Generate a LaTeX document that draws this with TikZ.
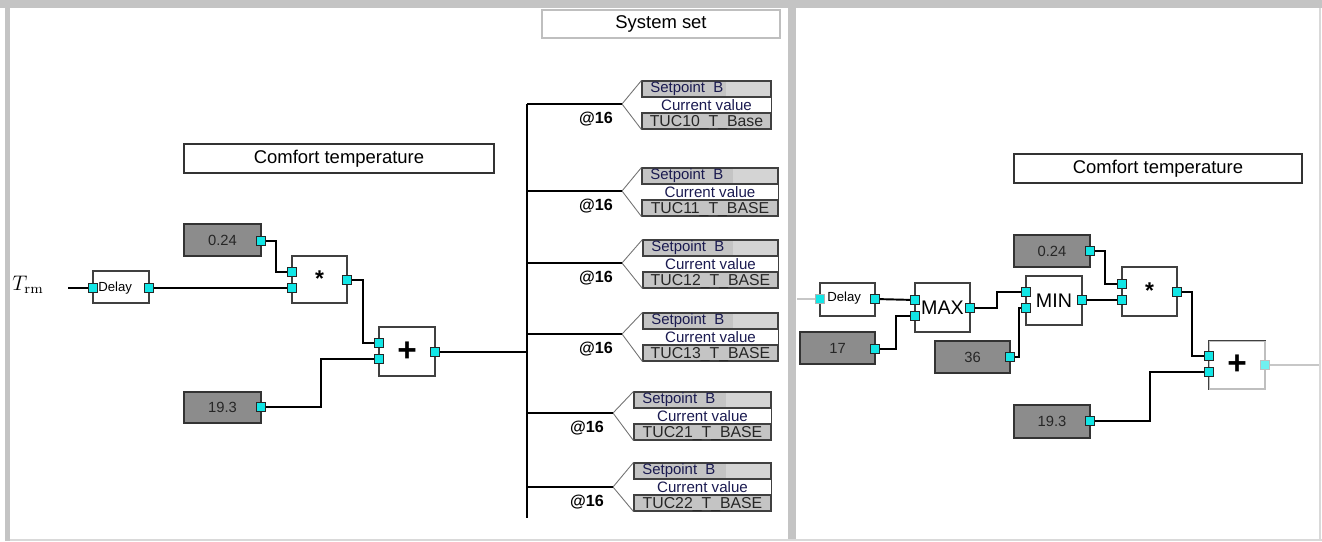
\documentclass[tikz,border=0pt]{standalone}
\usepackage[no-math]{fontspec}
\setmainfont{Liberation Sans}
\usetikzlibrary{backgrounds}
\definecolor{framegray}{HTML}{C4C4C4}
\definecolor{constgray}{HTML}{8C8C8C}
\definecolor{rowgray}{HTML}{C4C4C4}
\definecolor{rowlight}{HTML}{D4D4D4}
\definecolor{portcyan}{HTML}{12E6E6}
\definecolor{rowtext}{HTML}{1A1A50}
\newdimen\pxu \pxu=0.02cm

\begin{document}
\begin{tikzpicture}[
    x=0.02cm, y=-0.02cm,
    wire/.style={line width=1.1pt, black},
    paleline/.style={line width=1pt, black!22},
    fbox/.style={rectangle, draw=black!75, fill=white, line width=0.6pt, inner sep=0pt, minimum width=56\pxu, minimum height=48\pxu},
    cbox/.style={rectangle, draw=black!80, fill=constgray, line width=0.6pt, inner sep=0pt, minimum width=76\pxu, minimum height=32\pxu, text=black!85, font=\fontsize{8.4}{10}\selectfont},
    titlebox/.style={rectangle, draw=black!80, fill=white, line width=0.6pt, inner sep=0pt, minimum height=29\pxu, font=\fontsize{10.5}{12}\selectfont},
    port/.style={rectangle, draw=black!85, fill=portcyan, line width=0.5pt, inner sep=0pt, minimum size=9\pxu},
    sprow/.style={rectangle, draw=black!75, fill=rowgray, line width=0.6pt, inner sep=0pt, minimum height=16\pxu},
    chev/.style={black!55, line width=0.5pt},
    tagtext/.style={font=\bfseries\fontsize{9.2}{10}\selectfont, anchor=east},
    bigop/.style={font=\fontsize{11.2}{12}\selectfont}
]
    \useasboundingbox (0,0) rectangle (1322,541);

    % Frame of the two panels
    \fill[framegray] (0,0) rectangle (1322,8);
    \fill[framegray] (5,8) rectangle (10,541);
    \fill[framegray] (788,8) rectangle (796,541);
    \fill[black!15] (10,539) rectangle (1322,541);
    \fill[black!15] (1319,8) rectangle (1321,541);
    \node[titlebox, draw=black!25, minimum width=238\pxu, minimum height=28\pxu] (sysset) at (661,24) {System set};

    % Left panel: blocks
    \node[titlebox, minimum width=310\pxu] (titleL) at (339,158.5) {Comfort temperature};
    \node[anchor=base west, font=\fontsize{12}{14}\selectfont, inner sep=0pt] (trm) at (12,290) {$T_{\rm rm}$};
    \coordinate (trm-end) at (68,288);
    \node[fbox, minimum width=56\pxu, minimum height=32\pxu] (dlyL) at (121,287) {};
    \node[anchor=west, inner sep=0pt, font=\fontsize{7.5}{9}\selectfont] at (98,288) {Delay};
    \node[cbox, minimum width=77\pxu] (c024L) at (222.5,240) {0.24};
    \node[fbox, minimum width=55\pxu, minimum height=47\pxu] (mulL) at (319.5,279.5) {};
    \node[anchor=north, inner sep=0pt, font=\bfseries\fontsize{13}{14}\selectfont] at (319.5,270) {*};
    \node[fbox, minimum height=49\pxu] (addL) at (407,351.5) {\bfseries\fontsize{19}{20}\selectfont +};
    \node[cbox, minimum width=77\pxu, minimum height=31\pxu] (c193L) at (222.5,407.5) {19.3};

    % Left panel: ports
    \node[port] (dlyL-i) at (93,288) {};
    \node[port] (dlyL-o) at (149,288) {};
    \node[port] (c024L-o) at (261,241) {};
    \node[port] (mulL-i1) at (292,272) {};
    \node[port] (mulL-i2) at (292,288) {};
    \node[port] (mulL-o) at (347,280) {};
    \node[port] (addL-i1) at (379,343) {};
    \node[port] (addL-i2) at (379,359) {};
    \node[port] (addL-o) at (435,352) {};
    \node[port] (c193L-o) at (261,407) {};

    % Left panel: wires
    \coordinate (tapadd) at (527,352);
    \coordinate (busend) at (527,518);
    \begin{scope}[on background layer]
        \draw[wire] (trm-end) -- (dlyL-i.center);
        \draw[wire] (dlyL-o.center) -- (mulL-i2.center);
        \draw[wire] (c024L-o.center) -- ++(15,0) |- (mulL-i1.center);
        \draw[wire] (mulL-o.center) -- ++(16,0) |- (addL-i1.center);
        \draw[wire] (c193L-o.center) -- ++(60,0) |- (addL-i2.center);
        \draw[wire] (addL-o.center) -- (tapadd);
    \end{scope}

    % System set outputs
    \foreach \n/\ax/\lx/\rx/\ty/\by/\tag in {
        1/622/642/771/81/104/TUC10\_T\_Base,
        2/622/642/778/168/191/TUC11\_T\_BASE,
        3/622/643/778/240/263/TUC12\_T\_BASE,
        4/622/643/778/313/334/TUC13\_T\_BASE,
        5/613/634/771/392/413/TUC21\_T\_BASE,
        6/613/634/771/463/487/TUC22\_T\_BASE}{
        \pgfmathsetmacro{\cx}{(\lx+\rx)/2}
        \pgfmathsetmacro{\w}{\rx-\lx}
        \coordinate (tap\n) at (527,\by);
        \coordinate (apex\n) at (\ax,\by);
        \node[sprow, minimum width=\w\pxu] (sp\n-a) at (\cx,\ty+8) {};
        \fill[rowlight] (\rx-45,\ty+1) rectangle (\rx-1,\ty+15);
        \node[rectangle, inner sep=0pt, minimum width=\w\pxu, minimum height=16\pxu, text=rowtext, font=\fontsize{8.6}{9}\selectfont] (sp\n-b) at (\cx,\ty+24) {Current value};
        \node[sprow, minimum width=\w\pxu, text=black!85, text depth=0pt, font=\fontsize{9}{9}\selectfont] (sp\n-c) at (\cx,\ty+40) {\tag};
        \node[anchor=west, inner sep=0pt, text=rowtext, font=\fontsize{8.5}{9}\selectfont] at (\lx+8,\ty+8) {Setpoint\ \ B};
        \draw[black!75, line width=0.6pt] (sp\n-a.south east) -- (sp\n-c.north east);
        \draw[chev] (sp\n-a.north west) -- (apex\n) -- (sp\n-c.south west);
        \node[tagtext] at (\ax-3,\by+15) {@16};
        \draw[wire] (tap\n) -- (apex\n);
    }
    \draw[wire] (tap1) -- (busend);

    % Right panel: blocks
    \node[titlebox, minimum width=288\pxu] (titleR) at (1158,168.5) {Comfort temperature};
    \coordinate (feed) at (797,299);
    \node[fbox, minimum width=55\pxu, minimum height=33\pxu] (dlyR) at (847.5,299.5) {};
    \node[anchor=west, inner sep=0pt, font=\fontsize{7.5}{9}\selectfont] at (827,298) {Delay};
    \node[fbox, minimum width=55\pxu, minimum height=49\pxu, bigop] (maxR) at (942.5,307.5) {MAX};
    \node[cbox, minimum width=75\pxu] (c17) at (837.5,348) {17};
    \node[fbox, minimum height=49\pxu, bigop] (minR) at (1054,300.5) {MIN};
    \node[cbox, minimum width=75\pxu] (c36) at (972.5,357) {36};
    \node[cbox] (c024R) at (1052,251) {0.24};
    \node[fbox, minimum width=55\pxu, minimum height=49\pxu] (mulR) at (1149.5,291.5) {};
    \node[anchor=north, inner sep=0pt, font=\bfseries\fontsize{13}{14}\selectfont] at (1149.5,282) {*};
    \node[fbox, draw=black!25, minimum height=48\pxu] (addR) at (1237,365) {\bfseries\fontsize{19}{20}\selectfont +};
    \draw[black!75, line width=0.6pt] (addR.south west) -- (addR.north west) -- (addR.north east);
    \node[cbox, minimum height=33\pxu] (c193R) at (1052,421.5) {19.3};
    \coordinate (outR) at (1320,365);

    % Right panel: ports
    \node[port, draw=black!30] (dlyR-i) at (820,299) {};
    \node[port] (dlyR-o) at (875,299) {};
    \node[port] (maxR-i1) at (915,300) {};
    \node[port] (maxR-i2) at (915,316) {};
    \node[port] (maxR-o) at (970,308) {};
    \node[port] (c17-o) at (875,349) {};
    \node[port] (minR-i1) at (1026,292) {};
    \node[port] (minR-i2) at (1026,308) {};
    \node[port] (minR-o) at (1082,300) {};
    \node[port] (c36-o) at (1010,357) {};
    \node[port] (c024R-o) at (1090,251) {};
    \node[port] (mulR-i1) at (1122,284) {};
    \node[port] (mulR-i2) at (1122,300) {};
    \node[port] (mulR-o) at (1177,292) {};
    \node[port] (addR-i1) at (1209,356) {};
    \node[port] (addR-i2) at (1209,372) {};
    \node[port, draw=black!25, fill=portcyan!60] (addR-o) at (1265,365) {};
    \node[port] (c193R-o) at (1090,421) {};

    % Right panel: wires
    \begin{scope}[on background layer]
        \draw[paleline] (feed) -- (dlyR-i.center);
        \draw[wire] (dlyR-o.center) -- (maxR-i1.center);
        \draw[wire] (c17-o.center) -- ++(21,0) |- (maxR-i2.center);
        \draw[wire] (maxR-o.center) -- ++(27,0) |- (minR-i1.center);
        \draw[wire] (c36-o.center) -- ++(9,0) |- (minR-i2.center);
        \draw[wire] (c024R-o.center) -- ++(15,0) |- (mulR-i1.center);
        \draw[wire] (minR-o.center) -- (mulR-i2.center);
        \draw[wire] (mulR-o.center) -- ++(15,0) |- (addR-i1.center);
        \draw[wire] (c193R-o.center) -- ++(60,0) |- (addR-i2.center);
        \draw[paleline] (addR-o.center) -- (outR);
    \end{scope}
\end{tikzpicture}
\end{document}
